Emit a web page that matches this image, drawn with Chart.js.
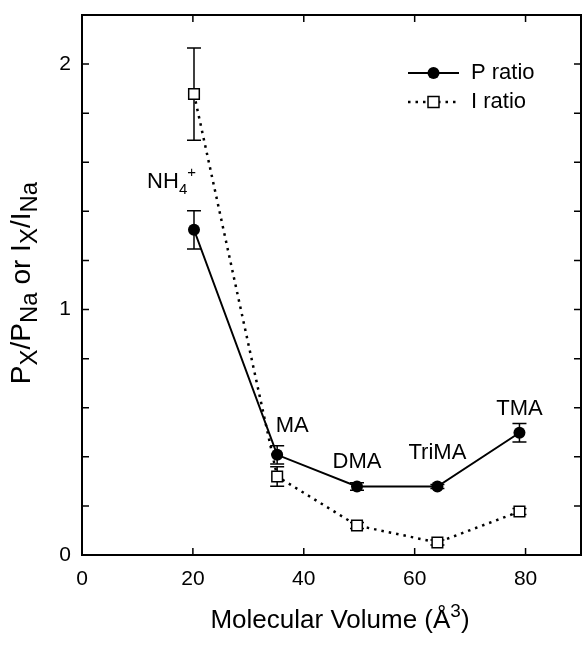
<!DOCTYPE html>
<html>
<head>
<meta charset="utf-8">
<script src="https://cdn.jsdelivr.net/npm/chart.js@4"></script>
<style>
  html, body { margin: 0; padding: 0; background: #fff; overflow: hidden; }
  canvas { display: block; }
</style>
</head>
<body>
<canvas id="grafico" width="582" height="650"></canvas>
<script>
// dados
const ions = ["NH4+", "MA", "DMA", "TriMA", "TMA"];
const molVolume = [20.2, 35.2, 49.6, 64.1, 78.9];
const pRatio = [1.325, 0.408, 0.279, 0.279, 0.498];
const pErro = [0.078, 0.037, 0.015, 0.008, 0.038];
const iRatio = [1.878, 0.320, 0.120, 0.051, 0.177];
const iErro = [0.188, 0.040, 0.012, 0.010, 0.012];
const xTicks = [0, 20, 40, 60, 80];
const yTicks = [0, 1, 2];

const fonte = '"Liberation Sans", Arial, Helvetica, sans-serif';

// deslocamento dos rotulos em relacao ao ponto P (px)
const rotuloPos = [
    { dx: 2, dy: -42, align: 'right' },
    { dx: 15, dy: -23, align: 'center' },
    { dx: 0, dy: -19, align: 'center' },
    { dx: 0, dy: -28, align: 'center' },
    { dx: 0, dy: -18, align: 'center' }
];

// desenha texto com partes de tamanhos diferentes (sub/sobrescrito)
function textoComposto(ctx, partes, x, y, align) {
    let total = 0;
    partes.forEach(p => {
        ctx.font = p.size + 'px ' + fonte;
        p.w = ctx.measureText(p.t).width;
        total += p.w;
    });
    let cx = x;
    if (align === 'center') cx = x - total / 2;
    if (align === 'right') cx = x - total;
    ctx.textAlign = 'left';
    ctx.textBaseline = 'alphabetic';
    partes.forEach(p => {
        ctx.font = p.size + 'px ' + fonte;
        ctx.fillText(p.t, cx, y + (p.dy || 0));
        cx += p.w;
    });
}

function zeraPadding(s) {
    s.paddingLeft = 0;
    s.paddingRight = 0;
    s.paddingTop = 0;
    s.paddingBottom = 0;
}

const barrasErro = {
    id: 'barrasErro',
    beforeDatasetsDraw(chart) {
        const ctx = chart.ctx;
        const xs = chart.scales.x, ys = chart.scales.y;
        ctx.save();
        ctx.strokeStyle = '#000';
        ctx.lineWidth = 1.5;
        [[pRatio, pErro], [iRatio, iErro]].forEach(([vals, errs]) => {
            vals.forEach((v, i) => {
                const px = xs.getPixelForValue(molVolume[i]);
                const y1 = ys.getPixelForValue(v + errs[i]);
                const y2 = ys.getPixelForValue(v - errs[i]);
                ctx.beginPath();
                ctx.moveTo(px, y1); ctx.lineTo(px, y2);
                ctx.moveTo(px - 7, y1); ctx.lineTo(px + 7, y1);
                ctx.moveTo(px - 7, y2); ctx.lineTo(px + 7, y2);
                ctx.stroke();
            });
        });
        ctx.restore();
    }
};

const moldura = {
    id: 'moldura',
    afterDraw(chart) {
        const ctx = chart.ctx;
        const a = chart.chartArea;
        const xs = chart.scales.x, ys = chart.scales.y;
        ctx.save();
        ctx.strokeStyle = '#000';
        ctx.fillStyle = '#000';
        ctx.lineWidth = 2;
        ctx.strokeRect(a.left, a.top, a.right - a.left, a.bottom - a.top);

        // ticks para dentro
        ctx.lineWidth = 1.5;
        ctx.beginPath();
        ys.ticks.forEach(t => {
            const py = ys.getPixelForValue(t.value);
            ctx.moveTo(a.left, py); ctx.lineTo(a.left + 7, py);
            ctx.moveTo(a.right, py); ctx.lineTo(a.right - 7, py);
        });
        xs.ticks.forEach(t => {
            if (t.value === 0) return;
            const px = xs.getPixelForValue(t.value);
            ctx.moveTo(px, a.bottom); ctx.lineTo(px, a.bottom - 7);
            ctx.moveTo(px, a.top); ctx.lineTo(px, a.top + 7);
        });
        ctx.stroke();

        // rotulos dos ions
        ions.forEach((nome, i) => {
            const px = xs.getPixelForValue(molVolume[i]) + rotuloPos[i].dx;
            const py = ys.getPixelForValue(pRatio[i]) + rotuloPos[i].dy;
            let partes;
            if (nome === 'NH4+') {
                partes = [{ t: 'NH', size: 22 }, { t: '4', size: 15, dy: 6 }, { t: '+', size: 15, dy: -11 }];
            } else {
                partes = [{ t: nome, size: 22 }];
            }
            textoComposto(ctx, partes, px, py, rotuloPos[i].align);
        });

        // legenda
        const lx1 = a.right - 173, lx2 = a.right - 122, lm = (lx1 + lx2) / 2;
        const ly1 = a.top + 58, ly2 = a.top + 87;
        ctx.lineWidth = 2;
        ctx.beginPath();
        ctx.moveTo(lx1, ly1); ctx.lineTo(lx2, ly1);
        ctx.stroke();
        ctx.beginPath();
        ctx.arc(lm, ly1, 6, 0, Math.PI * 2);
        ctx.fill();
        ctx.setLineDash([2.5, 5]);
        ctx.lineWidth = 2.5;
        ctx.beginPath();
        ctx.moveTo(lx1, ly2); ctx.lineTo(lx2, ly2);
        ctx.stroke();
        ctx.setLineDash([]);
        ctx.lineWidth = 1.5;
        ctx.fillStyle = '#fff';
        ctx.fillRect(lm - 5.5, ly2 - 5.5, 11, 11);
        ctx.strokeRect(lm - 5.5, ly2 - 5.5, 11, 11);
        ctx.fillStyle = '#000';
        ctx.font = '22px ' + fonte;
        ctx.textAlign = 'left';
        ctx.textBaseline = 'middle';
        ctx.fillText('P ratio', a.right - 110, ly1);
        ctx.fillText('I ratio', a.right - 110, ly2);

        // titulo do eixo x
        textoComposto(ctx, [
            { t: 'Molecular Volume (Å', size: 26 },
            { t: '3', size: 19, dy: -11 },
            { t: ')', size: 26 }
        ], 340, 628, 'center');

        // titulo do eixo y (rotacionado)
        ctx.translate(30, 283);
        ctx.rotate(-Math.PI / 2);
        textoComposto(ctx, [
            { t: 'P', size: 28 }, { t: 'X', size: 24, dy: 7 },
            { t: '/P', size: 28 }, { t: 'Na', size: 24, dy: 7 },
            { t: ' or I', size: 28 }, { t: 'X', size: 24, dy: 7 },
            { t: '/I', size: 28 }, { t: 'Na', size: 24, dy: 7 }
        ], 0, 0, 'center');
        ctx.restore();
    }
};

const ctx = document.getElementById('grafico').getContext('2d');

const grafico = new Chart(ctx, {
    type: 'line',
    data: {
        datasets: [{
            label: 'P ratio',
            data: molVolume.map((v, i) => ({ x: v, y: pRatio[i] })),
            borderColor: '#000',
            borderWidth: 2,
            backgroundColor: '#000',
            pointStyle: 'circle',
            pointRadius: 6,
            pointBorderWidth: 0,
            pointBackgroundColor: '#000',
            tension: 0
        }, {
            label: 'I ratio',
            data: molVolume.map((v, i) => ({ x: v, y: iRatio[i] })),
            borderColor: '#000',
            borderWidth: 2.5,
            borderDash: [2.5, 5],
            pointStyle: 'rect',
            pointRadius: 7.5,
            pointBorderWidth: 1.5,
            pointBorderColor: '#000',
            pointBackgroundColor: '#fff',
            tension: 0
        }]
    },
    options: {
        responsive: false,
        animation: false,
        devicePixelRatio: 1,
        layout: { autoPadding: false, padding: { top: 15, right: 1, left: 0, bottom: 0 } },
        plugins: {
            legend: { display: false },
            tooltip: { enabled: false }
        },
        scales: {
            x: {
                type: 'linear',
                min: 0,
                max: 90,
                grid: { display: false, drawTicks: false },
                border: { display: false },
                ticks: {
                    stepSize: 20,
                    includeBounds: false,
                    autoSkip: false,
                    maxRotation: 0,
                    padding: 12,
                    color: '#000',
                    font: { size: 21, family: fonte },
                    callback: v => xTicks.includes(v) ? String(v) : ''
                },
                afterFit(s) {
                    s.height = 95;
                    zeraPadding(s);
                }
            },
            y: {
                type: 'linear',
                min: 0,
                max: 2.2,
                grid: { display: false, drawTicks: false },
                border: { display: false },
                ticks: {
                    stepSize: 0.2,
                    autoSkip: false,
                    padding: 11,
                    color: '#000',
                    font: { size: 21, family: fonte },
                    callback: v => {
                        const r = Math.round(v * 10) / 10;
                        return yTicks.includes(r) ? String(r) : '';
                    }
                },
                afterFit(s) {
                    s.width = 82;
                    zeraPadding(s);
                }
            }
        }
    },
    plugins: [barrasErro, moldura]
});
</script>
</body>
</html>
